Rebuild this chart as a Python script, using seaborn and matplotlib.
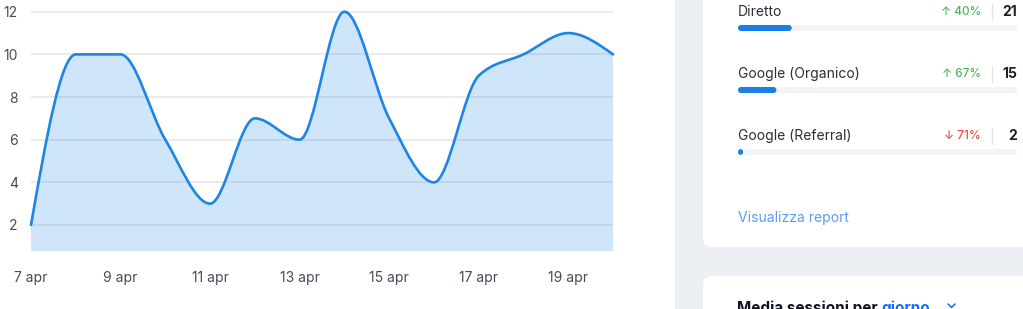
import numpy as np
import pandas as pd
import matplotlib
matplotlib.use("Agg")
import matplotlib.pyplot as plt
import seaborn as sns
from matplotlib.path import Path
from matplotlib.patches import PathPatch, FancyBboxPatch, Rectangle

# ---------------- data ----------------
days = ["7 apr", "8 apr", "9 apr", "10 apr", "11 apr", "12 apr", "13 apr",
        "14 apr", "15 apr", "16 apr", "17 apr", "18 apr", "19 apr", "20 apr"]
sessions = [2, 10, 10, 6, 3, 7, 6, 12, 7, 4, 9, 10, 11, 10]
y_ticks = [2, 4, 6, 8, 10, 12]

sources = ["Diretto", "Google (Organico)", "Google (Referral)"]
source_sessions = [21, 15, 2]
source_change = ["40%", "67%", "71%"]
source_up = [True, True, False]
source_scale_max = 109

link_text = "Visualizza report"
card2_title = "Media sessioni per "
card2_title_link = "giorno"

# ---------------- style ----------------
sns.set_theme(style="white")
plt.rcParams["font.family"] = ["Inter", "DejaVu Sans"]

LINE = "#1d85e6"
BAR = "#1a80e6"
TRACK = "#f3f4f7"
GRID = "#e8e9ec"
TICK = "#464b57"
PANEL_BG = "#eceff3"
GREEN = "#4fb65a"
RED = "#ef4b45"
DARK = "#1b1f2e"

W, H = 1023, 309
fig = plt.figure(figsize=(W / 100, H / 100), dpi=100)
fig.patch.set_facecolor("white")


def px_axes(l, t, r, b):
    return fig.add_axes([l / W, 1 - b / H, (r - l) / W, (b - t) / H])


# background / cards (layout decoration in pixel space)
bg = px_axes(0, 0, W, H)
bg.set_xlim(0, W)
bg.set_ylim(H, 0)
bg.axis("off")
bg.add_patch(Rectangle((675, -5), W - 675 + 5, H + 10, color=PANEL_BG, lw=0))
bg.add_patch(FancyBboxPatch((703, -40), 400, 287, boxstyle="round,pad=0,rounding_size=9",
                            fc="white", ec="none"))
bg.add_patch(FancyBboxPatch((703, 276), 400, 100, boxstyle="round,pad=0,rounding_size=9",
                            fc="white", ec="none"))

# ---------------- main area chart ----------------
ax = px_axes(31, 0, 613, 251)
x = np.arange(len(sessions), dtype=float)
y = np.asarray(sessions, dtype=float)


def monotone_path(xv, yv):
    n = len(xv)
    h = np.diff(xv)
    s = np.diff(yv) / h
    m = np.zeros(n)
    for i in range(1, n - 1):
        p = (s[i - 1] * h[i] + s[i] * h[i - 1]) / (h[i - 1] + h[i])
        m[i] = (np.sign(s[i - 1]) + np.sign(s[i])) * min(abs(s[i - 1]), abs(s[i]), 0.5 * abs(p))
    m[0] = (3 * s[0] - m[1]) / 2
    m[-1] = (3 * s[-1] - m[-2]) / 2
    verts = [(xv[0], yv[0])]
    codes = [Path.MOVETO]
    for i in range(n - 1):
        d = h[i] / 3
        verts += [(xv[i] + d, yv[i] + d * m[i]),
                  (xv[i + 1] - d, yv[i + 1] - d * m[i + 1]),
                  (xv[i + 1], yv[i + 1])]
        codes += [Path.CURVE4] * 3
    return verts, codes


ymin, ymax = 0.78, 12.55
verts, codes = monotone_path(x, y)
fill_path = Path(verts + [(x[-1], ymin), (x[0], ymin), (x[0], ymin)],
                 codes + [Path.LINETO, Path.LINETO, Path.CLOSEPOLY])
ax.add_patch(PathPatch(fill_path, fc=LINE, alpha=0.21, ec="none", zorder=1))
ax.add_patch(PathPatch(Path(verts, codes), fc="none", ec=LINE, lw=1.9,
                       zorder=3, clip_on=False, capstyle="round", joinstyle="round"))

ax.set_xlim(0, len(sessions) - 1)
ax.set_ylim(ymin, ymax)
ax.set_yticks(y_ticks)
ax.set_yticklabels([str(v) for v in y_ticks])
ax.set_xticks(x[::2])
ax.set_xticklabels(days[::2])
ax.set_axisbelow(True)
ax.grid(axis="y", color=GRID, lw=1.3)
ax.grid(axis="x", visible=False)
for sp in ax.spines.values():
    sp.set_visible(False)
ax.tick_params(axis="x", length=0, pad=14.5, labelsize=10, labelcolor=TICK)
ax.tick_params(axis="y", length=0, pad=9.5, labelsize=10, labelcolor=TICK)
ax.set_facecolor("none")

# ---------------- progress bars (right card) ----------------
row_gap = 62
bax = px_axes(738, 28 - row_gap / 2, 1017, 28 + row_gap * 2.5)
bw = 6 / row_gap
sns.barplot(x=[source_scale_max] * len(sources), y=sources, orient="h", color=TRACK,
            saturation=1, width=bw, errorbar=None, ax=bax)
sns.barplot(x=source_sessions, y=sources, orient="h", color=BAR,
            saturation=1, width=bw, errorbar=None, ax=bax)
bax.set_xlim(0, source_scale_max)
bax.set_ylim(len(sources) - 0.5, -0.5)
bax.axis("off")
rx = 3 * source_scale_max / (1017 - 738)
ry = 3 / row_gap
for p in list(bax.patches):
    x0, y0, w, hgt = p.get_x(), p.get_y(), p.get_width(), p.get_height()
    fc = p.get_facecolor()
    p.remove()
    bax.add_patch(FancyBboxPatch((x0, y0), w, hgt,
                                 boxstyle=f"round,pad=0,rounding_size={rx}",
                                 mutation_aspect=ry / rx, fc=fc, ec="none", lw=0))

# row texts
for i, (name, val, chg, up) in enumerate(zip(sources, source_sessions, source_change, source_up)):
    ty = 12 + i * row_gap
    bg.text(738, ty, name, ha="left", va="center", fontsize=10, color="#2b2f3a")
    bg.text(981, ty, ("↑ " if up else "↓ ") + chg, ha="right", va="center",
            fontsize=8.5, fontweight="medium", color=GREEN if up else RED)
    bg.plot([992, 992], [ty - 8, ty + 8], color="#e3e5ea", lw=1)
    bg.text(1017, ty, str(val), ha="right", va="center", fontsize=10,
            fontweight="bold", color=DARK)

bg.text(738, 218, link_text, ha="left", va="center", fontsize=10, color="#5c9cf6")

t1 = bg.text(737, 300, card2_title, ha="left", va="top", fontsize=11,
             fontweight="bold", color="#111320")
t2 = bg.annotate(card2_title_link, xy=(1, 1), xycoords=t1, ha="left", va="top",
                 fontsize=11, fontweight="bold", color="#116dff")
bg.plot([948, 951.5, 955], [304, 307.5, 304], color="#116dff", lw=1.1)

fig.savefig("out.png", dpi=100, facecolor="white")
